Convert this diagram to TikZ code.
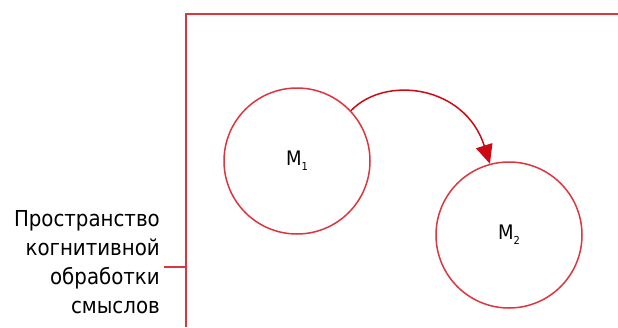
\documentclass[tikz,border=0pt]{standalone}
\usepackage{fontspec}
\setmainfont{DejaVu Sans Condensed}
\usetikzlibrary{arrows.meta}
\definecolor{framered}{RGB}{222,52,62}
\definecolor{arrowred}{RGB}{205,10,20}
\newcommand{\subidx}[1]{\raisebox{-5pt}{\fontsize{11}{11}\selectfont #1}}
\tikzset{
  frameline/.style={draw=framered, line width=1.8pt},
  memcircle/.style={circle, draw=framered, line width=1.5pt, minimum size=146pt, inner sep=0pt,
    font=\fontsize{20}{20}\selectfont},
  flowarrow/.style={draw=arrowred, line width=1.5pt, -{Triangle[length=19pt,width=17pt]}},
  lbl/.style={font=\fontsize{22}{29}\selectfont, align=right, inner sep=0pt, anchor=east}
}
\begin{document}
\begin{tikzpicture}[x=1pt,y=-1pt]
\useasboundingbox (0,0) rectangle (618,327);
\coordinate (top) at (618,14);
\coordinate (corner) at (186,14);
\coordinate (bottom) at (186,327);
\coordinate (tickend) at (186,267);
\coordinate (tickstart) at (164,267);
\draw[frameline] (top) -- (corner) -- (bottom);
\draw[frameline] (tickstart) -- (tickend);
\node[lbl] (space) at (160,262) {Пространство\\когнитивной\\обработки\\смыслов};
\node[memcircle] (m1) at (297,161) {M\subidx{1}};
\node[memcircle] (m2) at (509,235) {M\subidx{2}};
\draw[flowarrow] (m1.43) .. controls (385,75) and (465,85) .. (m2.105);
\end{tikzpicture}
\end{document}
